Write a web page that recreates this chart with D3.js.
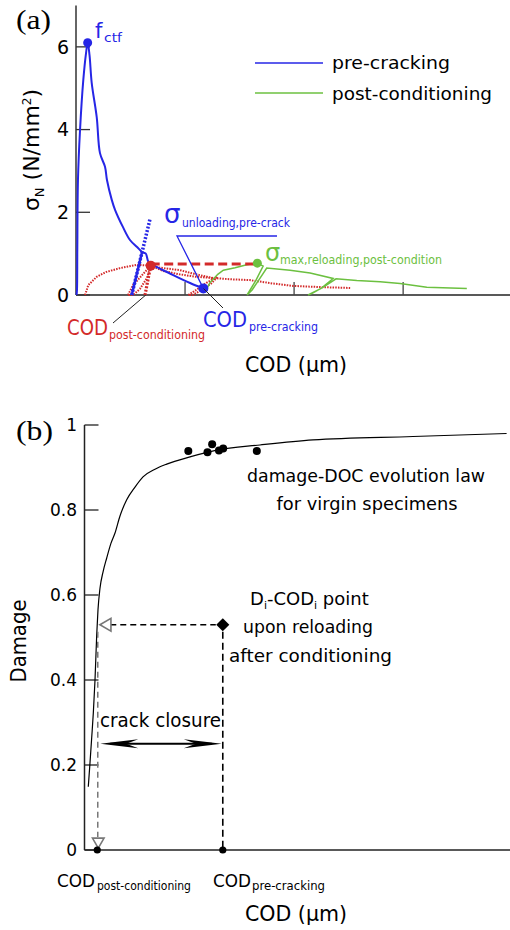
<!DOCTYPE html>
<html>
<head>
<meta charset="utf-8">
<script src="https://cdn.jsdelivr.net/npm/d3@7"></script>
<style>
body{margin:0;background:#fff}
svg{display:block}
text{font-family:"Comic Sans MS","DejaVu Sans",sans-serif}
</style>
</head>
<body>
<svg id="chart" width="510" height="930"></svg>
<script>
// ---- panel (a): sigma_N vs COD ----
var yTicksA = [0,2,4,6];
var xTicksA = [1,2,3];
// pre-cracking curve [COD, sigma]
var preCrack = [[0.005,0],[0.009,0.12],[0.012,1.09],[0.018,2.78],[0.037,3.99],[0.067,5.2],[0.092,5.85],[0.107,6.10],
  [0.124,5.80],[0.144,5.13],[0.19,4.30],[0.22,3.43],[0.266,3.10],[0.284,2.78],[0.328,2.30],[0.358,2.06],
  [0.431,1.64],[0.495,1.33],[0.56,1.16],[0.606,1.04],[0.64,1.0],[0.665,0.80],[0.725,0.70],[0.862,0.52],
  [1.046,0.29],[1.168,0.16]];
var preUnload = [[0.511,0],[0.606,1.04]];
var preUnloadExt = [[0.511,0],[0.679,1.84]];
// post-conditioning, red dotted (unloading/reloading record)
var redRise = [[0.083,0],[0.113,0.24],[0.19,0.44],[0.28,0.56],[0.404,0.65],[0.557,0.73],[0.685,0.71],
  [0.771,0.66],[0.954,0.60],[1.10,0.50],[1.257,0.41],[1.42,0.38],[1.596,0.36],[1.80,0.28],[1.99,0.22],
  [2.25,0.19],[2.514,0.17]];
var redLower = [[0.685,0.71],[0.80,0.58],[0.95,0.50],[1.10,0.44],[1.257,0.41]];
var redLoopA = [[0.477,0],[0.523,0.24],[0.606,0.48],[0.685,0.71],[0.651,0.41],[0.587,0.15],[0.523,0],[0.477,0]];
var redDrop = [[0.685,0.71],[0.633,0]];
var redLoopB = [[1.03,0],[1.10,0.12],[1.20,0.30],[1.30,0.44],[1.24,0.28],[1.15,0.12],[1.07,0],[1.03,0]];
// post-conditioning, green
var postCond = [[1.183,0.07],[1.229,0.30],[1.30,0.50],[1.351,0.60],[1.459,0.66],[1.566,0.73],[1.663,0.77],
  [1.716,0.70],[1.651,0.36],[1.569,0],[1.615,0.12],[1.688,0.41],[1.749,0.65],[1.963,0.60],[2.147,0.53],
  [2.358,0.40],[2.248,0.16],[2.128,0],[2.174,0.05],[2.275,0.20],[2.385,0.39],[2.575,0.35],[2.789,0.32],
  [2.972,0.28],[3.217,0.19],[3.584,0.16]];
var fctf = [0.107,6.10];
var codPreA = [1.168,0.16];
var codPostA = [0.685,0.71];
var sigMaxA = [1.663,0.77];
var reloadLevel = 0.75;

// ---- panel (b): damage vs COD (schematic) ----
var yTicksB = [0,0.2,0.4,0.6,0.8,1];
var lawCOD = [0.89,1.29,1.69,2.07,2.47,2.87,3.17,3.64,4.35,5.22,6.23,7.17,8.34,9.92,11.87,13.75,16.57,19.32,24.79,31.07,41.25,53.7,77.2,99.2];
var lawD   = [0.149,0.205,0.264,0.322,0.400,0.506,0.565,0.616,0.654,0.687,0.722,0.746,0.786,0.824,0.854,0.878,0.896,0.908,0.925,0.941,0.953,0.965,0.973,0.980];
var virginCOD = [24.4,28.9,30.0,31.6,32.6,40.5];
var virginD   = [0.939,0.936,0.955,0.940,0.945,0.939];
var codPostB = 3.0, codPreB = 32.5, dI = 0.53, closureD = 0.25;

var blue = "#2626e6", red = "#d32a2a", green = "#6cc040", grey = "#777";
var svg = d3.select("#chart");

// scales
var xA = d3.scaleLinear().domain([0,3.98]).range([76,510]);
var yA = d3.scaleLinear().domain([0,7]).range([295,5.5]);
var xB = d3.scaleLinear().domain([0,100]).range([84.5,510]);
var yB = d3.scaleLinear().domain([0,1]).range([850,425]);

var lineA = d3.line().x(function(d){return xA(d[0])}).y(function(d){return yA(d[1])});
var smoothA = d3.line().x(function(d){return xA(d[0])}).y(function(d){return yA(d[1])}).curve(d3.curveCatmullRom.alpha(0.5));

function txt(x, y, s, size, color, len, anchor){
  var t = svg.append("text").attr("x", x).attr("y", y).text(s)
    .style("font-size", size+"px").attr("fill", color || "#000");
  if(len){ t.attr("textLength", len).attr("lengthAdjust", "spacingAndGlyphs"); }
  if(anchor){ t.attr("text-anchor", anchor); }
  return t;
}

// ===== panel (a) =====
var ga = svg.append("g");
// axes
ga.append("line").attr("x1",xA(0)).attr("x2",xA(0)).attr("y1",yA(0)).attr("y2",yA(7)).attr("stroke","#333").attr("stroke-width",1.5);
ga.append("line").attr("x1",xA(0)).attr("x2",510).attr("y1",yA(0)).attr("y2",yA(0)).attr("stroke","#222").attr("stroke-width",1.5);
ga.selectAll(".yt").data(yTicksA).enter().append("line")
  .attr("x1",xA(0)).attr("x2",xA(0)+14).attr("y1",function(d){return yA(d)}).attr("y2",function(d){return yA(d)})
  .attr("stroke","#333").attr("stroke-width",1.3);
ga.selectAll(".yl").data(yTicksA).enter().append("text")
  .attr("x",69).attr("y",function(d){return yA(d)}).attr("dy","0.35em").attr("text-anchor","end")
  .style("font-size","19px").text(function(d){return d});
ga.selectAll(".xt").data(xTicksA).enter().append("line")
  .attr("x1",function(d){return xA(d)}).attr("x2",function(d){return xA(d)})
  .attr("y1",yA(0)).attr("y2",yA(0)-13).attr("stroke","#444").attr("stroke-width",1.3);

// curves
ga.append("path").attr("d",lineA(redRise)).attr("fill","none").attr("stroke",red).attr("stroke-width",2).attr("stroke-dasharray","1.5,1.2");
ga.append("path").attr("d",lineA(redLower)).attr("fill","none").attr("stroke",red).attr("stroke-width",2).attr("stroke-dasharray","1.5,1.2");
ga.append("path").attr("d",lineA(redLoopA)).attr("fill","none").attr("stroke",red).attr("stroke-width",2).attr("stroke-dasharray","1.5,1.2");
ga.append("path").attr("d",lineA(redLoopB)).attr("fill","none").attr("stroke",red).attr("stroke-width",2).attr("stroke-dasharray","1.5,1.2");
ga.append("path").attr("d",lineA(redDrop)).attr("fill","none").attr("stroke",red).attr("stroke-width",3.2).attr("stroke-dasharray","2,1.5");
ga.append("path").attr("d",lineA(postCond)).attr("fill","none").attr("stroke",green).attr("stroke-width",1.5);
ga.append("path").attr("d",smoothA(preCrack)).attr("fill","none").attr("stroke",blue).attr("stroke-width",2);
ga.append("path").attr("d",lineA(preUnload)).attr("fill","none").attr("stroke",blue).attr("stroke-width",2.5);
ga.append("path").attr("d",lineA(preUnloadExt)).attr("fill","none").attr("stroke",blue).attr("stroke-width",3.5).attr("stroke-dasharray","2,1.6");
ga.append("line").attr("x1",xA(codPostA[0])).attr("x2",xA(sigMaxA[0])).attr("y1",yA(reloadLevel)).attr("y2",yA(reloadLevel))
  .attr("stroke",red).attr("stroke-width",3).attr("stroke-dasharray","9,4.5");

// key points
ga.append("circle").attr("cx",xA(fctf[0])).attr("cy",yA(fctf[1])).attr("r",4.5).attr("fill",blue);
ga.append("circle").attr("cx",xA(codPreA[0])).attr("cy",yA(codPreA[1])).attr("r",5).attr("fill",blue);
ga.append("circle").attr("cx",xA(codPostA[0])).attr("cy",yA(codPostA[1])).attr("r",5).attr("fill",red);
ga.append("circle").attr("cx",xA(sigMaxA[0])).attr("cy",yA(sigMaxA[1])).attr("r",4.5).attr("fill",green);

// leader lines
ga.append("line").attr("x1",113).attr("y1",323).attr("x2",xA(0.64)).attr("y2",yA(0)).attr("stroke","#222").attr("stroke-width",1);
ga.append("line").attr("x1",223).attr("y1",308).attr("x2",xA(codPreA[0])).attr("y2",yA(codPreA[1])).attr("stroke","#222").attr("stroke-width",1);
ga.append("polyline").attr("points",[[277,236],[177,236],[xA(codPreA[0]),yA(codPreA[1])]].join(" "))
  .attr("fill","none").attr("stroke",blue).attr("stroke-width",1.3);

// legend
ga.append("line").attr("x1",255).attr("x2",323).attr("y1",63).attr("y2",63).attr("stroke",blue).attr("stroke-width",1.6);
ga.append("line").attr("x1",255).attr("x2",323).attr("y1",93).attr("y2",93).attr("stroke",green).attr("stroke-width",1.6);
txt(332,69,"pre-cracking",18,"#000",118);
txt(332,100,"post-conditioning",18,"#000",160);

// labels
txt(16,29,"(a)",27,"#000",35).style("font-family","'Liberation Serif',serif");
txt(95,38,"f",21,blue);
txt(104,42,"ctf",13,blue,18);
txt(164,223,"σ",26,blue);
txt(182,227,"unloading,pre-crack",13,blue,108);
txt(265,261,"σ",24,green);
txt(280,264,"max,reloading,post-condition",13,green,162);
txt(67,335,"COD",22,red,41);
txt(109,339,"post-conditioning",13,red,96);
txt(203,327,"COD",22,blue,44);
txt(249,331,"pre-cracking",13,blue,69);
txt(296,372,"COD (μm)",22,"#000",102,"middle");
var yl = svg.append("text").attr("transform","translate(39,150) rotate(-90)").attr("text-anchor","middle").style("font-size","22px");
yl.append("tspan").text("σ");
yl.append("tspan").attr("dy",5).style("font-size","13px").text("N");
yl.append("tspan").attr("dy",-5).text(" (N/mm");
yl.append("tspan").attr("dy",-8).style("font-size","12px").text("2");
yl.append("tspan").attr("dy",8).text(")");

// ===== panel (b) =====
var gb = svg.append("g");
gb.append("line").attr("x1",xB(0)).attr("x2",xB(0)).attr("y1",yB(0)).attr("y2",yB(1)).attr("stroke","#222").attr("stroke-width",1.5);
gb.append("line").attr("x1",xB(0)).attr("x2",510).attr("y1",yB(0)).attr("y2",yB(0)).attr("stroke","#222").attr("stroke-width",1.5);
gb.selectAll(".yt").data(yTicksB).enter().append("line")
  .attr("x1",xB(0)).attr("x2",xB(0)+14).attr("y1",function(d){return yB(d)}).attr("y2",function(d){return yB(d)})
  .attr("stroke","#222").attr("stroke-width",1.3);
gb.selectAll(".yl").data(yTicksB).enter().append("text")
  .attr("x",77).attr("y",function(d){return yB(d)}).attr("dy","0.35em").attr("text-anchor","end")
  .style("font-size","17px").text(function(d){return d3.format("~g")(d)});

var lawPts = lawCOD.map(function(c,i){return [c, lawD[i]]});
var lineB = d3.line().x(function(d){return xB(d[0])}).y(function(d){return yB(d[1])}).curve(d3.curveMonotoneX);
gb.append("path").attr("d",lineB(lawPts)).attr("fill","none").attr("stroke","#000").attr("stroke-width",1.2);
gb.selectAll(".vd").data(virginCOD).enter().append("circle")
  .attr("cx",function(d){return xB(d)}).attr("cy",function(d,i){return yB(virginD[i])}).attr("r",4).attr("fill","#000");

// construction lines
gb.append("line").attr("x1",xB(codPostB)+13).attr("x2",xB(codPreB)-7).attr("y1",yB(dI)).attr("y2",yB(dI))
  .attr("stroke","#000").attr("stroke-width",1.5).attr("stroke-dasharray","6,4");
gb.append("line").attr("x1",xB(codPreB)).attr("x2",xB(codPreB)).attr("y1",yB(dI)+7).attr("y2",yB(0))
  .attr("stroke","#000").attr("stroke-width",1.6).attr("stroke-dasharray","7,4");
gb.append("line").attr("x1",xB(codPostB)+0.5).attr("x2",xB(codPostB)+0.5).attr("y1",yB(dI)+7).attr("y2",yB(0)-13)
  .attr("stroke",grey).attr("stroke-width",1.5).attr("stroke-dasharray","6,4");
gb.append("path").attr("d",d3.symbol(d3.symbolTriangle,70)())
  .attr("transform","translate("+(xB(codPostB)+10)+","+yB(dI)+") rotate(-90)")
  .attr("fill","#fff").attr("stroke",grey).attr("stroke-width",1.6);
gb.append("path").attr("d",d3.symbol(d3.symbolTriangle,58)())
  .attr("transform","translate("+(xB(codPostB)+1)+","+(yB(0)-8.5)+") rotate(180)")
  .attr("fill","#fff").attr("stroke",grey).attr("stroke-width",1.6);
gb.append("path").attr("d",d3.symbol(d3.symbolSquare,85)())
  .attr("transform","translate("+xB(codPreB)+","+yB(dI)+") rotate(45)").attr("fill","#000");
gb.selectAll(".bd").data([codPostB,codPreB]).enter().append("circle")
  .attr("cx",function(d){return xB(d)}).attr("cy",yB(0)).attr("r",3.6).attr("fill","#000");

// crack closure arrow
var ay = yB(closureD), ax1 = xB(codPostB)+3, ax2 = xB(codPreB)-1;
gb.append("line").attr("x1",ax1+10).attr("x2",ax2-10).attr("y1",ay).attr("y2",ay).attr("stroke","#000").attr("stroke-width",2);
gb.append("path").attr("d","M"+ax1+","+ay+" L"+(ax1+38)+","+(ay-4.5)+" L"+(ax1+26)+","+ay+" L"+(ax1+38)+","+(ay+4.5)+"Z").attr("fill","#000");
gb.append("path").attr("d","M"+ax2+","+ay+" L"+(ax2-38)+","+(ay-4.5)+" L"+(ax2-26)+","+ay+" L"+(ax2-38)+","+(ay+4.5)+"Z").attr("fill","#000");

// labels
txt(16,440,"(b)",27,"#000",37).style("font-family","'Liberation Serif',serif");
txt(366,482,"damage-DOC evolution law",18,"#000",238,"middle");
txt(367,510,"for virgin specimens",18,"#000",181,"middle");
var di = svg.append("text").attr("x",250).attr("y",605).style("font-size","18px");
di.append("tspan").text("D");
di.append("tspan").attr("dy",4).style("font-size","11px").text("i");
di.append("tspan").attr("dy",-4).text("-COD");
di.append("tspan").attr("dy",4).style("font-size","11px").text("i");
di.append("tspan").attr("dy",-4).text(" point");
txt(243,633,"upon reloading",18,"#000",130);
txt(229,662,"after conditioning",18,"#000",163);
txt(100,727,"crack closure",19,"#000",121);
txt(57,887,"COD",17,"#000",38);
txt(97,890,"post-conditioning",12,"#000",94);
txt(213,887,"COD",17,"#000",38);
txt(252,890,"pre-cracking",12,"#000",73);
txt(296,921,"COD (μm)",22,"#000",102,"middle");
var dl = txt(0,0,"Damage",21,"#000",83,"middle").attr("transform","translate(26,641) rotate(-90)");
</script>
</body>
</html>
